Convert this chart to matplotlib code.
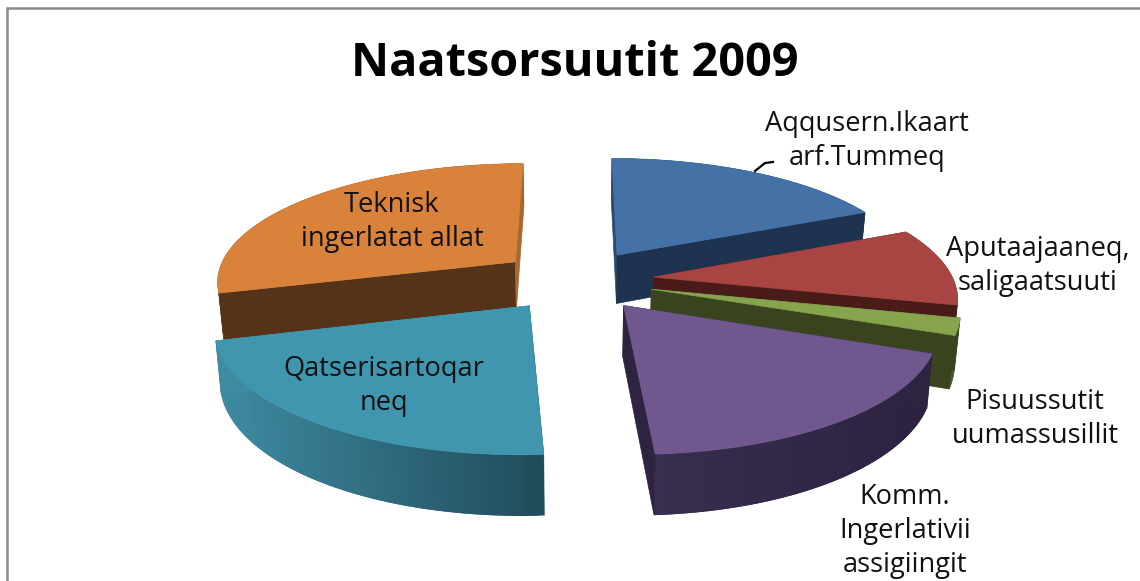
import numpy as np
import matplotlib
matplotlib.use('Agg')
import matplotlib.pyplot as plt
from matplotlib.patches import Polygon
from matplotlib.collections import PolyCollection
from matplotlib.colors import to_rgb

title = "Naatsorsuutit 2009"
labels = ["Aqqusern.Ikaart\narf.Tummeq", "Aputaajaaneq,\nsaligaatsuuti", "Pisuussutit\nuumassusillit",
          "Komm.\nIngerlativii\nassigiingit", "Qatserisartoqar\nneq", "Teknisk\ningerlatat allat"]
values = [18.3, 10.4, 2.2, 18.1, 21.7, 29.3]

top_colors = ['#4472a6', '#a84543', '#86a44c', '#70578d', '#3f96ae', '#d8823c']
# colour of the cut face at the start and at the end of each slice
start_colors = ['#2a4a75', '#4a1c19', '#39441f', '#2e2340', '#214e5d', '#553319']
end_colors = ['#1e3350', '#4a1c19', '#39441f', '#2e2340', '#3f8ba2', '#a8682f']
wall_left = ['#1e3350', '#4a1c19', '#39441f', '#3a2e50', '#3f8ba2', '#6a4020']
wall_right = ['#1e3350', '#4a1c19', '#39441f', '#2c2140', '#204c5b', '#553319']

label_pos = [(867, 141), (1038, 266), (1035, 419), (905, 531), (384, 386), (392, 222)]

# camera
cx, cy = 576, 280
rx, ry = 300, 118
persp = 0.15
depth = 50
shrink = 0.985
explode = 0.26


def project(X, Y, bottom=False):
    s = 1 / (1 + persp * Y)
    px = rx * X * s
    py = -ry * Y * s
    if bottom:
        return cx + px * shrink, cy + py + depth * s
    return cx + px, cy + py


def mix(c1, c2, t):
    a, b = np.array(to_rgb(c1)), np.array(to_rgb(c2))
    return tuple(a + (b - a) * t)


fig = plt.figure(figsize=(11.4, 5.81), dpi=100, facecolor='w')
ax = fig.add_axes([0, 0, 1, 1])
ax.set_xlim(0, 1140)
ax.set_ylim(581, 0)
ax.axis('off')

ax.plot([7, 7, 1140], [581, 8, 8], color='#8a8a8a', lw=1.8, solid_joinstyle='miter')

edges = np.cumsum([0] + values) / sum(values) * 2 * np.pi
# back slices first so the front ones cover them
order = [5, 0, 1, 2, 3, 4]

for i in order:
    t = np.linspace(edges[i], edges[i + 1], 80)
    mid = (edges[i] + edges[i + 1]) / 2
    ox, oy = explode * np.sin(mid), explode * np.cos(mid)
    X = ox + np.sin(t)
    Y = oy + np.cos(t)

    tx, ty = project(X, Y)
    bx, by = project(X, Y, True)
    ax_top = project(ox, oy)
    ax_bot = project(ox, oy, True)

    # outer wall, each quad overlaps the next so no seams show
    quads = []
    cols = []
    for k in range(len(t) - 1):
        n = min(k + 2, len(t) - 1)
        quads.append([(tx[k], ty[k]), (tx[n], ty[n]), (bx[n], by[n]), (bx[k], by[k])])
        f = (tx[k] - tx.min()) / max(tx.max() - tx.min(), 1)
        cols.append(mix(wall_left[i], wall_right[i], f))
    ax.add_collection(PolyCollection(quads, facecolors=cols, edgecolors='none'))

    # the two cut faces
    for k, col in ((0, start_colors[i]), (-1, end_colors[i])):
        face = [ax_top, (tx[k], ty[k]), (bx[k], by[k]), ax_bot]
        ax.add_patch(Polygon(face, closed=True, fc=col, ec=col, lw=0.5))

    # top
    pts = [ax_top] + list(zip(tx, ty))
    ax.add_patch(Polygon(pts, closed=True, fc=top_colors[i], ec=top_colors[i], lw=0.5))

ax.plot([755, 765, 773], [171, 163, 162], color='black', lw=1.6)

for lab, pos in zip(labels, label_pos):
    ax.text(pos[0], pos[1], lab, ha='center', va='center', family='Open Sans', fontsize=19.6,
            color='#111111', linespacing=1.29)

ax.text(575, 63, title, ha='center', va='center', family='Open Sans', fontweight='bold',
        fontsize=33.7, color='black')

fig.savefig('out.png', dpi=100)
